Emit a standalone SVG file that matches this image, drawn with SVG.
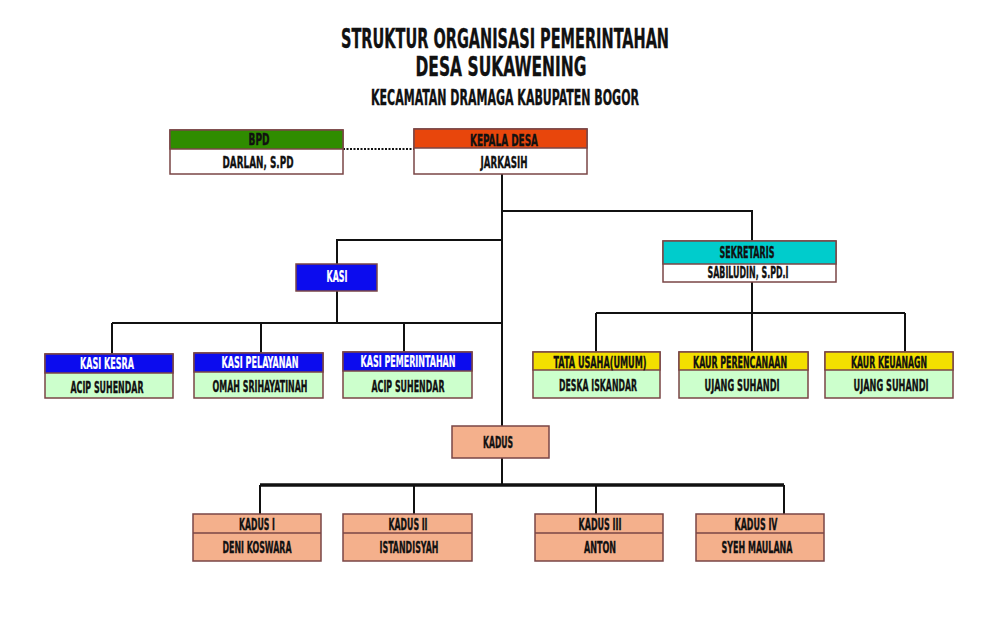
<svg xmlns="http://www.w3.org/2000/svg" width="1000" height="639" viewBox="0 0 1000 639">
<defs>
<style>
.t{font-family:"DejaVu Sans","Liberation Sans",sans-serif;font-weight:bold;font-stretch:condensed;text-anchor:middle;fill:#111;stroke:#111;stroke-width:0.35}
.h{font-size:15px}
.b{font-size:16.5px}
.w{fill:#fff;stroke:#fff;stroke-width:0.2}
.box{stroke:#7a4646;stroke-width:1.5}
.con{fill:none;stroke:#111;stroke-width:2}
.thick{fill:none;stroke:#111;stroke-width:3.5}
.dot{fill:none;stroke:#111;stroke-width:2;stroke-dasharray:2 1.5}
.green{fill:#2f8c00}.orange{fill:#e8460c}.blue{fill:#0c0cee}.cyan{fill:#00cccc}.yellow{fill:#f3df00}.salmon{fill:#f4b08c}.lg{fill:#ccffcc}.white{fill:#fff}
</style>
</defs>
<rect width="1000" height="639" fill="#fff"/>
<g id="title">
<text class="t" x="505" y="48" font-size="26" textLength="328" lengthAdjust="spacingAndGlyphs">STRUKTUR ORGANISASI PEMERINTAHAN</text>
<text class="t" x="501" y="76" font-size="26" textLength="171" lengthAdjust="spacingAndGlyphs">DESA SUKAWENING</text>
<text class="t" x="505" y="105" font-size="21" textLength="268" lengthAdjust="spacingAndGlyphs">KECAMATAN DRAMAGA KABUPATEN BOGOR</text>
</g>
<g id="connectors">
<path class="dot" d="M343 149H414"/>
<path class="con" d="M502 174V426M502 211H752V241M502 240H337V264M337 291V323M112 323H502M112 323V354M261 323V353M404 323V352M752 282V352M596 313H905M596 313V352M905 313V352M502 458V485M260 485V514M414 485V514M596 485V514M784 485V514"/>
<path class="thick" d="M260 485H784"/>
</g>
<g id="bpd">
<rect class="box white" x="170" y="130" width="173" height="44"/>
<rect class="box green" x="170" y="130" width="173" height="19"/>
<text class="t h" x="259" y="145" textLength="21" lengthAdjust="spacingAndGlyphs">BPD</text>
<text class="t b" x="258" y="168" textLength="71" lengthAdjust="spacingAndGlyphs">DARLAN, S.PD</text>
</g>
<g id="kepala-desa">
<rect class="box white" x="414" y="129" width="173" height="45"/>
<rect class="box orange" x="414" y="129" width="173" height="19"/>
<text class="t h" x="504" y="146" textLength="68" lengthAdjust="spacingAndGlyphs">KEPALA DESA</text>
<text class="t b" x="504" y="168" textLength="47" lengthAdjust="spacingAndGlyphs">JARKASIH</text>
</g>
<g id="kasi">
<rect class="box blue" x="296" y="264" width="81" height="27"/>
<text class="t h w" x="337" y="282" textLength="21" lengthAdjust="spacingAndGlyphs">KASI</text>
</g>
<g id="sekretaris">
<rect class="box white" x="663" y="241" width="173" height="41"/>
<rect class="box cyan" x="663" y="241" width="173" height="23"/>
<text class="t h" x="747" y="258" textLength="55" lengthAdjust="spacingAndGlyphs">SEKRETARIS</text>
<text class="t b" x="748" y="278" textLength="81" lengthAdjust="spacingAndGlyphs">SABILUDIN, S.PD.I</text>
</g>
<g id="kasi-kesra">
<rect class="box lg" x="45" y="354" width="128" height="44"/>
<rect class="box blue" x="45" y="354" width="128" height="19"/>
<text class="t h w" x="107" y="369" textLength="54" lengthAdjust="spacingAndGlyphs">KASI KESRA</text>
<text class="t b" x="107" y="393" textLength="73" lengthAdjust="spacingAndGlyphs">ACIP SUHENDAR</text>
</g>
<g id="kasi-pelayanan">
<rect class="box lg" x="194" y="353" width="129" height="45"/>
<rect class="box blue" x="194" y="353" width="129" height="19"/>
<text class="t h w" x="260" y="368" textLength="77" lengthAdjust="spacingAndGlyphs">KASI PELAYANAN</text>
<text class="t b" x="260" y="392" textLength="95" lengthAdjust="spacingAndGlyphs">OMAH SRIHAYATINAH</text>
</g>
<g id="kasi-pemerintahan">
<rect class="box lg" x="343" y="352" width="129" height="46"/>
<rect class="box blue" x="343" y="352" width="129" height="19"/>
<text class="t h w" x="408" y="366.5" textLength="95" lengthAdjust="spacingAndGlyphs">KASI PEMERINTAHAN</text>
<text class="t b" x="408" y="392" textLength="73" lengthAdjust="spacingAndGlyphs">ACIP SUHENDAR</text>
</g>
<g id="tata-usaha">
<rect class="box lg" x="533" y="352" width="127" height="46"/>
<rect class="box yellow" x="533" y="352" width="127" height="18"/>
<text class="t h" x="600" y="367.5" textLength="93" lengthAdjust="spacingAndGlyphs">TATA USAHA(UMUM)</text>
<text class="t b" x="598" y="391" textLength="78" lengthAdjust="spacingAndGlyphs">DESKA ISKANDAR</text>
</g>
<g id="kaur-perencanaan">
<rect class="box lg" x="679" y="352" width="129" height="46"/>
<rect class="box yellow" x="679" y="352" width="129" height="18"/>
<text class="t h" x="740" y="367.5" textLength="94" lengthAdjust="spacingAndGlyphs">KAUR PERENCANAAN</text>
<text class="t b" x="742" y="391" textLength="75" lengthAdjust="spacingAndGlyphs">UJANG SUHANDI</text>
</g>
<g id="kaur-keuangan">
<rect class="box lg" x="825" y="352" width="128" height="46"/>
<rect class="box yellow" x="825" y="352" width="128" height="18"/>
<text class="t h" x="889" y="367.5" textLength="76" lengthAdjust="spacingAndGlyphs">KAUR KEUANAGN</text>
<text class="t b" x="891" y="391" textLength="75" lengthAdjust="spacingAndGlyphs">UJANG SUHANDI</text>
</g>
<g id="kadus">
<rect class="box salmon" x="452" y="426" width="97" height="32"/>
<text class="t h" x="498" y="448" textLength="30" lengthAdjust="spacingAndGlyphs">KADUS</text>
</g>
<g id="kadus-1">
<rect class="box salmon" x="193" y="514" width="128" height="47"/>
<path class="box" d="M193 533H321"/>
<text class="t h" x="257" y="530" textLength="36" lengthAdjust="spacingAndGlyphs">KADUS I</text>
<text class="t b" x="257" y="553" textLength="69" lengthAdjust="spacingAndGlyphs">DENI KOSWARA</text>
</g>
<g id="kadus-2">
<rect class="box salmon" x="343" y="514" width="129" height="47"/>
<path class="box" d="M343 533H472"/>
<text class="t h" x="408" y="530" textLength="39" lengthAdjust="spacingAndGlyphs">KADUS II</text>
<text class="t b" x="409" y="553" textLength="59" lengthAdjust="spacingAndGlyphs">ISTANDISYAH</text>
</g>
<g id="kadus-3">
<rect class="box salmon" x="535" y="514" width="128" height="47"/>
<path class="box" d="M535 533H663"/>
<text class="t h" x="600" y="530" textLength="43" lengthAdjust="spacingAndGlyphs">KADUS III</text>
<text class="t b" x="600" y="553" textLength="32" lengthAdjust="spacingAndGlyphs">ANTON</text>
</g>
<g id="kadus-4">
<rect class="box salmon" x="696" y="514" width="128" height="47"/>
<path class="box" d="M696 533H824"/>
<text class="t h" x="756" y="530" textLength="43" lengthAdjust="spacingAndGlyphs">KADUS IV</text>
<text class="t b" x="757" y="553" textLength="71" lengthAdjust="spacingAndGlyphs">SYEH MAULANA</text>
</g>
</svg>
